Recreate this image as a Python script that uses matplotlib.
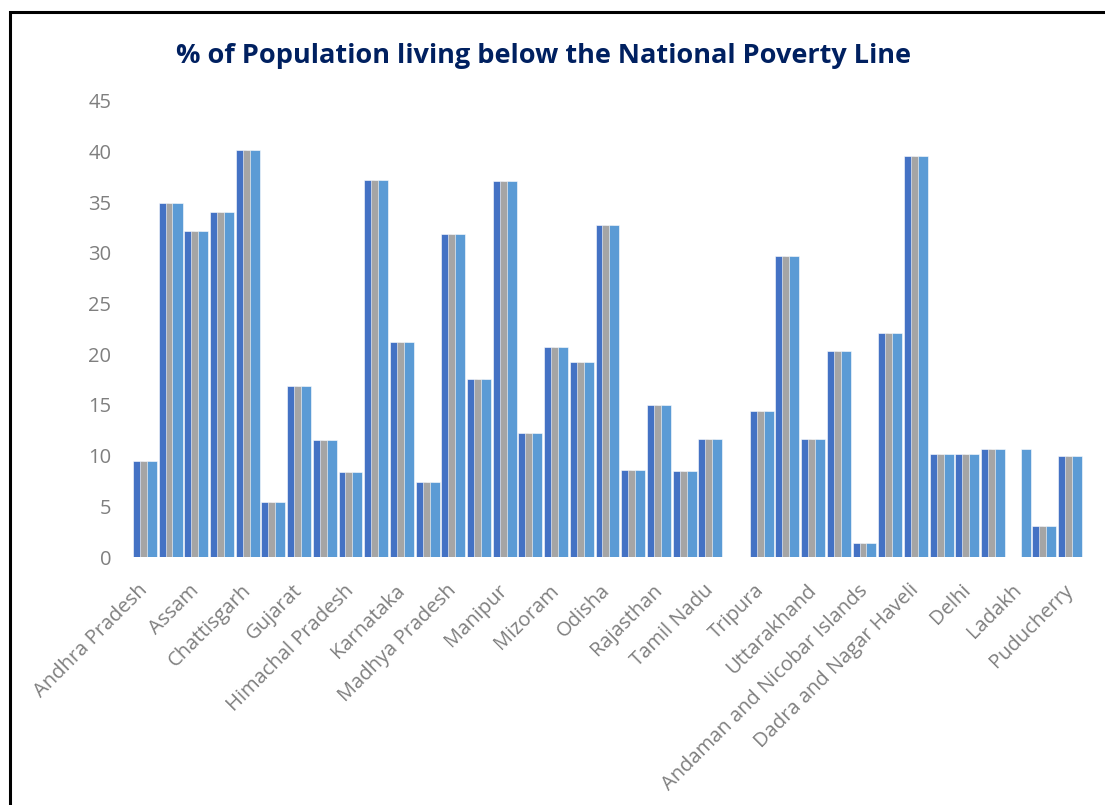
import matplotlib
matplotlib.use("Agg")
import matplotlib.pyplot as plt
import numpy as np
from matplotlib.patches import Rectangle

categories = [
    "Andhra Pradesh", "Arunachal Pradesh", "Assam", "Bihar", "Chattisgarh", "Goa",
    "Gujarat", "Haryana", "Himachal Pradesh", "Jharkhand", "Karnataka", "Kerala",
    "Madhya Pradesh", "Maharashtra", "Manipur", "Meghalaya", "Mizoram", "Nagaland",
    "Odisha", "Punjab", "Rajasthan", "Sikkim", "Tamil Nadu", "Telangana", "Tripura",
    "Uttar Pradesh", "Uttarakhand", "West Bengal", "Andaman and Nicobar Islands",
    "Chandigarh", "Dadra and Nagar Haveli", "Daman and Diu", "Delhi",
    "Jammu and Kashmir", "Ladakh", "Lakshadweep", "Puducherry",
]

series_c = [9.5, 34.9, 32.2, 34.0, 40.2, 5.4, 16.9, 11.5, 8.4, 37.2, 21.2, 7.4,
            31.9, 17.6, 37.1, 12.2, 20.7, 19.2, 32.8, 8.6, 15.0, 8.5, 11.6, np.nan,
            14.4, 29.7, 11.6, 20.3, 1.4, 22.1, 39.6, 10.2, 10.2, 10.7, np.nan, 3.1, 10.0]
series_b = list(series_c)
series_a = list(series_c)
series_a[34] = 10.7  # Ladakh only present in last series

dark = "#4472C4"
gray = "#A5A5A5"
light = "#5B9BD5"
fam = ["Open Sans", "DejaVu Sans"]

W, H = 1105, 805
fig = plt.figure(figsize=(W / 100, H / 100), dpi=100)

fig.patches.append(Rectangle((10 / W, -0.05), 1.2, (H - 12) / H + 0.05,
                             transform=fig.transFigure, fill=False,
                             edgecolor="black", linewidth=2.2))

ax = fig.add_axes([132 / W, (H - 557) / H, (1083 - 132) / W, (557 - 101) / H])

x = np.arange(len(categories))
bw = 0.39
ax.bar(x - 0.27, series_c, width=bw, color=dark, edgecolor="white", linewidth=0.4, zorder=2)
ax.bar(x, series_b, width=bw, color=gray, edgecolor="white", linewidth=0.4, zorder=3)
ax.bar(x + 0.27, series_a, width=bw, color=light, edgecolor="white", linewidth=0.4, zorder=4)

ax.set_xlim(-0.5, len(categories) - 0.5)
ax.set_ylim(0, 45)
ax.set_yticks(np.arange(0, 46, 5))
ax.set_xticks(x[::2])
ax.set_xticklabels(categories[::2], rotation=45, ha="right", va="center",
                   rotation_mode="anchor",
                   fontsize=14.5, color="#7F7F7F", family=fam)
for lbl in ax.get_yticklabels():
    lbl.set_fontsize(14.5)
    lbl.set_color("#7F7F7F")
    lbl.set_family(fam)
ax.tick_params(axis="y", length=0, pad=15)
ax.tick_params(axis="x", length=0, pad=22)
for s in ax.spines.values():
    s.set_visible(False)

fig.text(544 / W, (H - 56) / H, "% of Population living below the National Poverty Line",
         ha="center", va="center", fontsize=19.5, fontweight="bold",
         color="#002060", family=fam)

fig.savefig("out.png", dpi=100)
